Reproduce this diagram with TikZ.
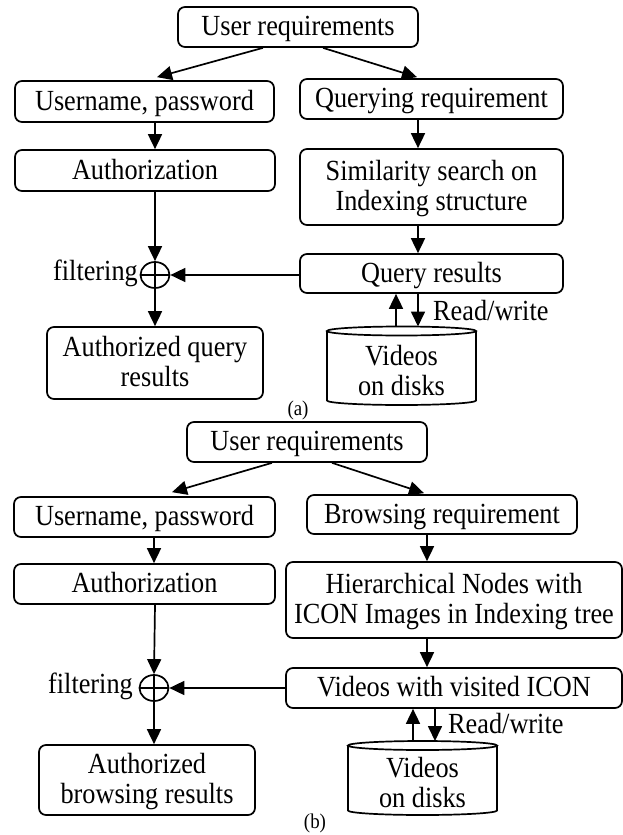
\documentclass[tikz,border=0pt]{standalone}
\usepackage{fontspec}
\setmainfont[FakeStretch=0.9]{Liberation Serif}
\usetikzlibrary{arrows.meta,shapes.geometric,calc}
\newcommand{\lnone}[1]{\raisebox{0pt}[20pt][3pt]{#1}}
\newcommand{\lntwo}[2]{\raisebox{0pt}[20pt][34pt]{\vtop{\baselineskip=30pt\halign{\hfil##\hfil\cr #1\cr #2\cr}}}}
\begin{document}
\begin{tikzpicture}[x=1pt,y=-1pt,
  font=\fontsize{29.2}{30}\selectfont,
  box/.style={draw,line width=1.7pt,rounded corners=7pt,inner sep=0pt},
  arr/.style={line width=1.7pt,-{Triangle[length=15pt,width=14pt]}},
  ln/.style={line width=1.7pt},
  plain/.style={inner sep=0pt},
  captext/.style={inner sep=0pt,font=\fontsize{21}{22}\selectfont},
  xor/.style={draw,line width=1.7pt,ellipse,minimum width=29pt,minimum height=26pt,inner sep=0pt}]
\useasboundingbox (0,0) rectangle (623,835);
% ---------------- panel (a)
\node[box,minimum width=240pt,minimum height=40pt] (ua) at (298,27) {\lnone{User requirements}};
\node[box,minimum width=259pt,minimum height=41pt] (una) at (144.5,101.5) {\lnone{Username, password}};
\node[box,minimum width=263pt,minimum height=40pt] (qa) at (431.5,99) {\lnone{Querying requirement}};
\node[box,minimum width=260pt,minimum height=41pt] (aua) at (145,170.5) {\lnone{Authorization}};
\node[box,minimum width=263pt,minimum height=76pt] (sa) at (431.5,187) {\lntwo{Similarity search on}{Indexing structure}};
\node[box,minimum width=263pt,minimum height=39pt] (qra) at (431.5,273.5) {\lnone{Query results}};
\node[xor] (fa) at (155,275) {};
\draw[ln] (fa.west) -- (fa.east) (fa.north) -- (fa.south);
\node[plain,anchor=base east] (filta) at (138,280) {filtering};
\node[box,minimum width=216pt,minimum height=72pt] (ara) at (155,363) {\lntwo{Authorized query}{results}};
% cylinder (a)
\draw[ln] (401.5,331) ellipse [x radius=74.5pt,y radius=4.5pt];
\draw[ln] (327,331) -- (327,400.5) arc[start angle=180,end angle=360,x radius=74.5pt,y radius=4.5pt] -- (476,331);
\node[plain,anchor=base] (cyla) at (401.5,365) {\lntwo{Videos}{on disks}};
\coordinate (cyla-up) at (396,326.5);
\coordinate (cyla-dn) at (418,326.5);
\node[plain,anchor=base west] (rwa) at (433,320) {Read/write};
\node[captext] (capa) at (298,410) {(a)};
% arrows (a)
\draw[arr] ($(ua.south)+(-35,0)$) -- ($(una.north)+(12.5,-3)$);
\draw[arr] ($(ua.south)+(25,0)$) -- ($(qa.north)+(-14.5,-1)$);
\draw[arr] (una.south -| fa.north) -- (aua.north -| fa.north);
\draw[arr] ($(qa.south)+(-13.5,0)$) -- ($(sa.north)+(-13.5,0)$);
\draw[arr] (aua.south -| fa.north) -- (fa.north);
\draw[arr] ($(sa.south)+(-13.5,0)$) -- ($(qra.north)+(-13.5,0)$);
\draw[arr] (qra.west |- fa.east) -- (fa.east);
\draw[arr] (fa.south) -- (ara.north -| fa.south);
\draw[arr] (cyla-up) -- (qra.south -| cyla-up);
\draw[arr] (qra.south -| cyla-dn) -- (cyla-dn);
% ---------------- panel (b)
\node[box,minimum width=240pt,minimum height=40pt] (ub) at (307,442) {\lnone{User requirements}};
\node[box,minimum width=261pt,minimum height=40pt] (unb) at (144.5,517) {\lnone{Username, password}};
\node[box,minimum width=270pt,minimum height=39pt] (bb) at (442,514.5) {\lnone{Browsing requirement}};
\node[box,minimum width=261pt,minimum height=40pt] (aub) at (144.5,584) {\lnone{Authorization}};
\node[box,minimum width=336pt,minimum height=76pt] (hb) at (454,600) {\lntwo{Hierarchical Nodes with}{ICON Images in Indexing tree}};
\node[box,minimum width=336pt,minimum height=40pt] (vb) at (454,688) {\lnone{Videos with visited ICON}};
\node[xor] (fb) at (154,688) {};
\draw[ln] (fb.west) -- (fb.east) (fb.north) -- (fb.south);
\node[plain,anchor=base east] (filtb) at (133,693.5) {filtering};
\node[box,minimum width=216pt,minimum height=70pt] (arb) at (147,780) {\lntwo{Authorized}{browsing results}};
% cylinder (b)
\draw[ln] (422.5,745.5) ellipse [x radius=74.5pt,y radius=4.5pt];
\draw[ln] (348,745.5) -- (348,810.5) arc[start angle=180,end angle=360,x radius=74.5pt,y radius=4.5pt] -- (497,745.5);
\node[plain,anchor=base] (cylb) at (422.5,777) {\lntwo{Videos}{on disks}};
\coordinate (cylb-up) at (413,741);
\coordinate (cylb-dn) at (435,741);
\node[plain,anchor=base west] (rwb) at (448,733) {Read/write};
\node[captext] (capb) at (315,823) {(b)};
% arrows (b)
\draw[arr] ($(ub.south)+(-35,0)$) -- ($(unb.north)+(27.5,-4)$);
\draw[arr] ($(ub.south)+(25,0)$) -- ($(bb.north)+(-18,-1)$);
\draw[arr] (unb.south -| fb.north) -- (aub.north -| fb.north);
\draw[arr] ($(bb.south)+(-15,0)$) -- ($(hb.north)+(-27,0)$);
\draw[arr] ($(aub.south)+(10.5,0)$) -- (fb.north);
\draw[arr] ($(hb.south)+(-27,0)$) -- ($(vb.north)+(-27,0)$);
\draw[arr] (vb.west |- fb.east) -- (fb.east);
\draw[arr] (fb.south) -- (arb.north -| fb.south);
\draw[arr] (cylb-up) -- (vb.south -| cylb-up);
\draw[arr] (vb.south -| cylb-dn) -- (cylb-dn);
\end{tikzpicture}
\end{document}
